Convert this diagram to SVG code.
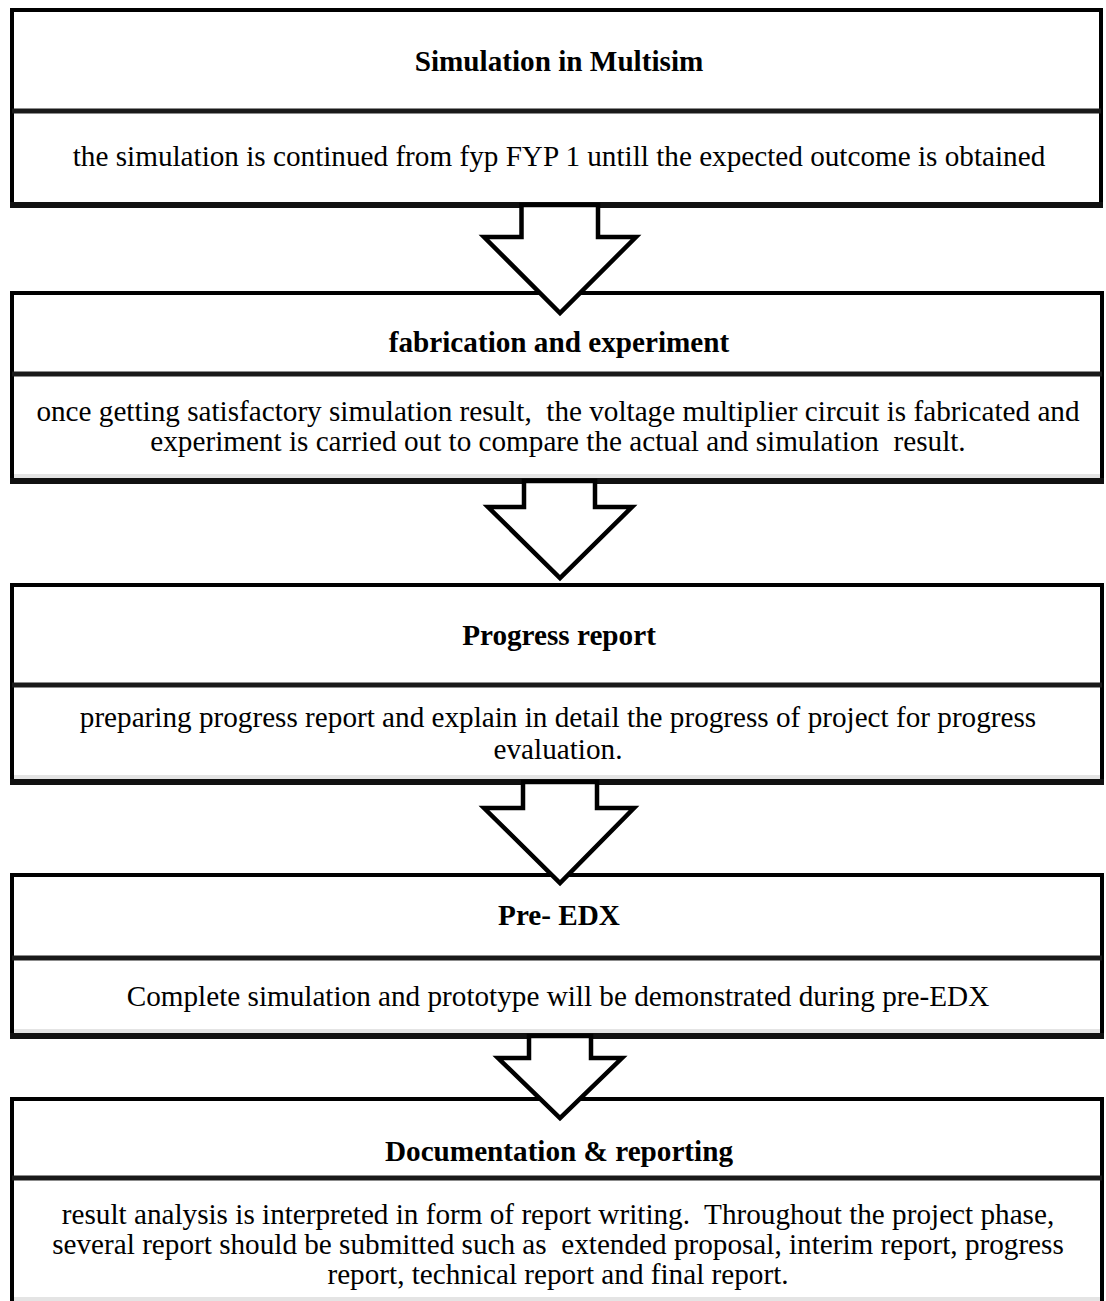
<svg xmlns="http://www.w3.org/2000/svg" width="1106" height="1301" viewBox="0 0 1106 1301">
<style>
.frame{fill:#fff;stroke:#000;stroke-width:4}
.div{stroke:#1a1a1a;stroke-width:5}
.bot{stroke:#111;stroke-width:6}
.shade{fill:#e4e4e4}
.title{font-family:"Liberation Serif","Times New Roman",serif;font-weight:bold;font-size:29.2px;text-anchor:middle;fill:#000}
.body{font-family:"Liberation Serif","Times New Roman",serif;font-size:29.2px;text-anchor:middle;fill:#000;white-space:pre}
.arrow{fill:#fff;stroke:#000;stroke-width:4.5;stroke-linejoin:miter}
</style>
<rect width="1106" height="1301" fill="#fff"/>

<g id="node-simulation">
<rect class="frame" x="12" y="10" width="1089" height="195"/>
<line class="div" x1="12" y1="111" x2="1101" y2="111"/>
<line class="bot" x1="10" y1="205" x2="1103" y2="205"/>
<text class="title" x="559" y="71">Simulation in Multisim</text>
<text class="body" x="559" y="166">the simulation is continued from fyp FYP 1 untill the expected outcome is obtained</text>
</g>

<g id="node-fabrication">
<rect class="frame" x="12" y="293" width="1090" height="188"/>
<rect class="shade" x="14" y="474" width="1086" height="4"/>
<line class="div" x1="12" y1="374" x2="1102" y2="374"/>
<line class="bot" x1="10" y1="481" x2="1104" y2="481"/>
<text class="title" x="559" y="352">fabrication and experiment</text>
<text class="body" x="558" y="421">once getting satisfactory simulation result,  the voltage multiplier circuit is fabricated and</text>
<text class="body" x="558" y="451">experiment is carried out to compare the actual and simulation  result.</text>
</g>

<g id="node-progress">
<rect class="frame" x="12" y="585" width="1090" height="197"/>
<rect class="shade" x="14" y="775" width="1086" height="4"/>
<line class="div" x1="12" y1="685" x2="1102" y2="685"/>
<line class="bot" x1="10" y1="782" x2="1104" y2="782"/>
<text class="title" x="559" y="645">Progress report</text>
<text class="body" x="558" y="727">preparing progress report and explain in detail the progress of project for progress</text>
<text class="body" x="558" y="759">evaluation.</text>
</g>

<g id="node-preedx">
<rect class="frame" x="12" y="875" width="1090" height="161"/>
<rect class="shade" x="14" y="1029" width="1086" height="4"/>
<line class="div" x1="12" y1="958" x2="1102" y2="958"/>
<line class="bot" x1="10" y1="1036" x2="1104" y2="1036"/>
<text class="title" x="559" y="925">Pre- EDX</text>
<text class="body" x="558" y="1006">Complete simulation and prototype will be demonstrated during pre-EDX</text>
</g>

<g id="node-documentation">
<path d="M12,1305 V1099 H1102 V1305" fill="#fff" stroke="#000" stroke-width="4"/>
<line class="div" x1="12" y1="1178" x2="1102" y2="1178"/>
<rect class="shade" x="14" y="1297" width="1086" height="4"/>
<text class="title" x="559" y="1161">Documentation &amp; reporting</text>
<text class="body" x="558" y="1224">result analysis is interpreted in form of report writing.  Throughout the project phase,</text>
<text class="body" x="558" y="1254">several report should be submitted such as  extended proposal, interim report, progress</text>
<text class="body" x="558" y="1284">report, technical report and final report.</text>
</g>

<g id="connectors">
<polygon class="arrow" points="521.5,205 521.5,237 484,237 560,313 636,237 598,237 598,205"/>
<polygon class="arrow" points="524,481 524,507 488,507 560,578 632,507 595,507 595,481"/>
<polygon class="arrow" points="523,782 523,808 484,808 560,883 634,808 597,808 597,782"/>
<polygon class="arrow" points="529,1036 529,1058 498,1058 560,1118 622,1058 591,1058 591,1036"/>
</g>
</svg>
